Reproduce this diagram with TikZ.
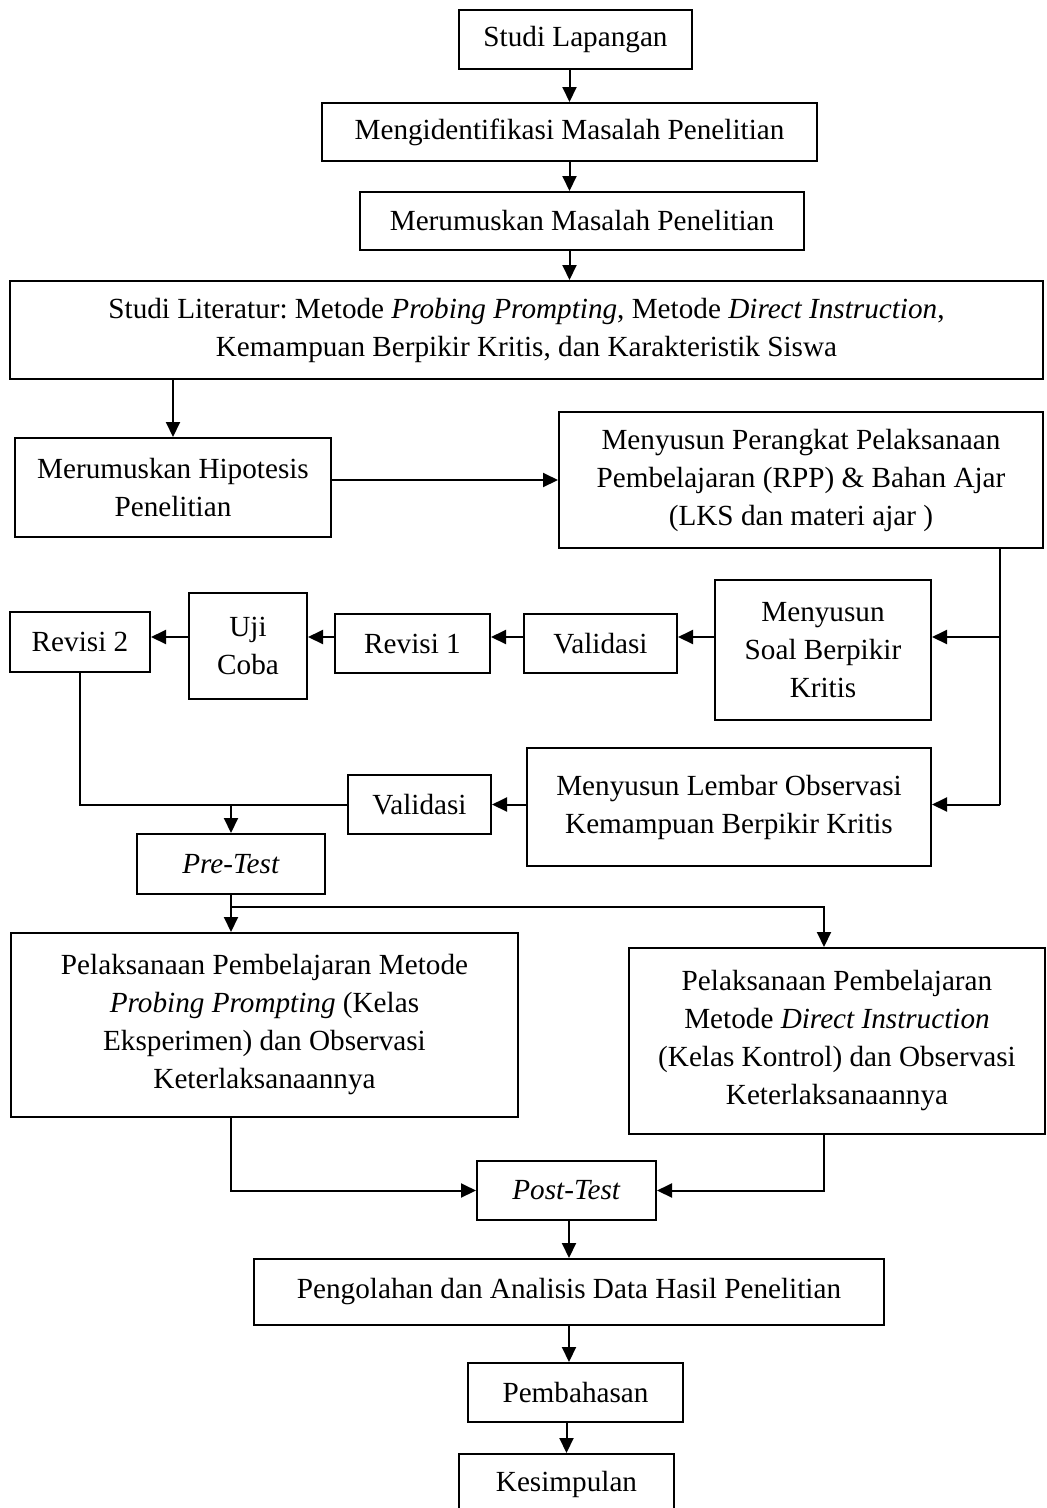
\documentclass[tikz,border=0pt]{standalone}
\usepackage{fontspec}
\setmainfont{Liberation Serif}
\usetikzlibrary{arrows.meta}
\frenchspacing

\tikzset{
	box/.style={shape=rectangle,draw=black,line width=2pt,
		align=center,inner sep=2pt,
		font=\fontsize{29.2}{38}\selectfont},
	link/.style={line width=2pt},
	arr/.style={link,-{Triangle[length=15pt,width=14pt]}}
}

\begin{document}
\begin{tikzpicture}[x=1pt,y=-1pt]
		\useasboundingbox (0,0) rectangle (1047,1508);
		\node(lap)[box,minimum width=233pt,minimum height=59pt] at (575.5,39.5) {Studi Lapangan};
		\node(ident)[box,minimum width=495pt,minimum height=58pt] at (569.5,132) {Mengidentifikasi Masalah Penelitian};
		\node(rumus)[box,minimum width=444pt,minimum height=58pt] at (582,221) {Merumuskan Masalah Penelitian};
		\node(lit)[box,minimum width=1033pt,minimum height=98pt] at (526.5,330)
			{Studi Literatur: Metode \textit{Probing Prompting}, Metode \textit{Direct Instruction},\\
			 Kemampuan Berpikir Kritis, dan Karakteristik Siswa};
		\node(hip)[box,minimum width=316pt,minimum height=99pt] at (173,487.5) {Merumuskan Hipotesis\\Penelitian};
		\node(per)[box,minimum width=484pt,minimum height=136pt] at (801,480)
			{Menyusun Perangkat Pelaksanaan\\Pembelajaran (RPP) \& Bahan Ajar\\(LKS dan materi ajar )};
		\node(rev2)[box,minimum width=140pt,minimum height=60pt] at (80,642) {Revisi 2};
		\node(uji)[box,minimum width=118pt,minimum height=106pt] at (248,646) {Uji\\Coba};
		\node(rev1)[box,minimum width=155pt,minimum height=59pt] at (412.5,643.5) {Revisi 1};
		\node(val1)[box,minimum width=153pt,minimum height=59pt] at (600.5,643.5) {Validasi};
		\node(soal)[box,minimum width=216pt,minimum height=140pt] at (823,650) {Menyusun\\Soal Berpikir\\Kritis};
		\node(lembar)[box,minimum width=404pt,minimum height=118pt] at (729,807)
			{Menyusun Lembar Observasi\\Kemampuan Berpikir Kritis};
		\node(val2)[box,minimum width=143pt,minimum height=59pt] at (419.5,804.5) {Validasi};
		\node(pre)[box,minimum width=188pt,minimum height=60pt] at (231,864) {\textit{Pre-Test}};
		\node(pel1)[box,minimum width=507pt,minimum height=184pt] at (264.5,1025)
			{Pelaksanaan Pembelajaran Metode\\\textit{Probing Prompting} (Kelas\\Eksperimen) dan Observasi\\Keterlaksanaannya};
		\node(pel2)[box,minimum width=416pt,minimum height=186pt] at (837,1041)
			{Pelaksanaan Pembelajaran\\Metode \textit{Direct Instruction}\\(Kelas Kontrol) dan Observasi\\Keterlaksanaannya};
		\node(post)[box,minimum width=179pt,minimum height=59pt] at (566.5,1190.5) {\textit{Post-Test}};
		\node(peng)[box,minimum width=630pt,minimum height=66pt] at (569,1292) {Pengolahan dan Analisis Data Hasil Penelitian};
		\node(pemb)[box,minimum width=215pt,minimum height=59pt] at (575.5,1392.5) {Pembahasan};
		\node(kes)[box,minimum width=215pt,minimum height=60pt] at (566.5,1484) {Kesimpulan};

		\coordinate (row) at (0,637);
		\coordinate (vr) at (1000,0);
		\coordinate (split) at (0,907);
		\coordinate (px) at (824,0);

		\draw[arr] (ident.north |- lap.south) -- (ident.north);
		\draw[arr] (ident.south) -- (ident.south |- rumus.north);
		\draw[arr] (ident.south |- rumus.south) -- (ident.south |- lit.north);
		\draw[arr] (hip.north |- lit.south) -- (hip.north);
		\draw[arr] (hip.east |- per.west) -- (per.west);
		\draw[link] (per.south -| vr) -- (vr |- val2.east);
		\draw[arr] (vr |- row) -- (soal.east |- row);
		\draw[arr] (vr |- val2.east) -- (lembar.east |- val2.east);
		\draw[arr] (soal.west |- row) -- (val1.east |- row);
		\draw[arr] (val1.west |- row) -- (rev1.east |- row);
		\draw[arr] (rev1.west |- row) -- (uji.east |- row);
		\draw[arr] (uji.west |- row) -- (rev2.east |- row);
		\draw[arr] (lembar.west |- val2.east) -- (val2.east);
		\draw[link] (rev2.south) |- (val2.west);
		\draw[arr] (pre.north |- val2.west) -- (pre.north);
		\draw[link] (pre.south) -- (pre.south |- split);
		\draw[arr] (pre.south |- split) -- (pre.south |- pel1.north);
		\draw[arr] (pre.south |- split) -| (px |- pel2.north);
		\draw[arr] (pre.south |- pel1.south) |- (post.west);
		\draw[arr] (px |- pel2.south) |- (post.east);
		\draw[arr] (post.south -| peng.north) -- (peng.north);
		\draw[arr] (peng.south) -- (peng.south |- pemb.north);
		\draw[arr] (kes.north |- pemb.south) -- (kes.north);
\end{tikzpicture}
\end{document}
